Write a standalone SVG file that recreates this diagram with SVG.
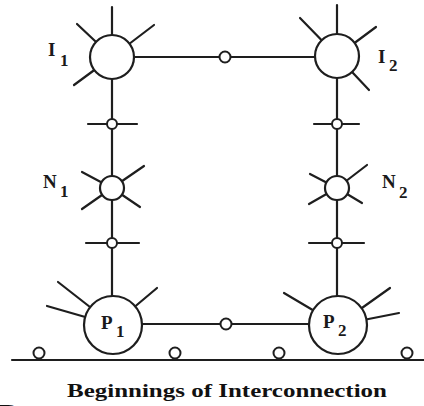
<svg xmlns="http://www.w3.org/2000/svg" width="424" height="406" viewBox="0 0 424 406">
<style>
.ln{stroke:#1e1e1e;stroke-width:2.2;fill:none;stroke-linecap:round}
.nd{stroke:#1e1e1e;stroke-width:2.2;fill:#fff}
.jn{stroke:#1e1e1e;stroke-width:2;fill:#fff}
.lb{font-family:"Liberation Serif",serif;font-weight:bold;fill:#1a1a1a}
.big{font-size:19px}
.sub{font-size:17px}
.cap{font-family:"Liberation Serif",serif;font-weight:bold;font-size:19px;fill:#111}
</style>
<rect width="424" height="406" fill="#fff"/>
<g id="connectors">
<line class="ln" x1="112" y1="57" x2="337" y2="57"/>
<line class="ln" x1="113" y1="324" x2="338" y2="324"/>
<line class="ln" x1="112" y1="57" x2="112" y2="310"/>
<line class="ln" x1="337" y1="57" x2="337" y2="310"/>
<line class="ln" x1="12" y1="360" x2="424" y2="360"/>
</g>
<g id="I1">
<line class="ln" x1="112" y1="7" x2="112" y2="57"/>
<line class="ln" x1="77" y1="24" x2="112" y2="57"/>
<line class="ln" x1="154" y1="25" x2="112" y2="57"/>
<line class="ln" x1="74" y1="85" x2="112" y2="57"/>
<circle class="nd" cx="112" cy="57" r="22"/>
<text class="lb"><tspan class="big" x="48" y="56">I</tspan><tspan class="sub" x="60" y="66">1</tspan></text>
</g>
<g id="I2">
<line class="ln" x1="337" y1="5" x2="337" y2="56"/>
<line class="ln" x1="300" y1="18" x2="337" y2="56"/>
<line class="ln" x1="376" y1="27" x2="337" y2="56"/>
<line class="ln" x1="369" y1="90" x2="337" y2="56"/>
<circle class="nd" cx="337" cy="56" r="22"/>
<text class="lb"><tspan class="big" x="378" y="63">I</tspan><tspan class="sub" x="389" y="71">2</tspan></text>
</g>
<g id="N1">
<line class="ln" x1="82" y1="172" x2="112" y2="188"/>
<line class="ln" x1="144" y1="166" x2="112" y2="188"/>
<line class="ln" x1="82" y1="209" x2="112" y2="188"/>
<line class="ln" x1="140" y1="207" x2="112" y2="188"/>
<circle class="nd" cx="112" cy="188" r="12"/>
<text class="lb"><tspan class="big" x="43" y="188">N</tspan><tspan class="sub" x="60" y="197">1</tspan></text>
</g>
<g id="N2">
<line class="ln" x1="310" y1="174" x2="337" y2="188"/>
<line class="ln" x1="367" y1="165" x2="337" y2="188"/>
<line class="ln" x1="309" y1="204" x2="337" y2="188"/>
<line class="ln" x1="362" y1="203" x2="337" y2="188"/>
<circle class="nd" cx="337" cy="188" r="12"/>
<text class="lb"><tspan class="big" x="382" y="188">N</tspan><tspan class="sub" x="399" y="198">2</tspan></text>
</g>
<g id="P1">
<line class="ln" x1="58" y1="282" x2="113" y2="325"/>
<line class="ln" x1="47" y1="306" x2="113" y2="325"/>
<line class="ln" x1="157" y1="288" x2="113" y2="325"/>
<circle class="nd" cx="113" cy="325" r="29"/>
<text class="lb"><tspan class="big" x="101" y="329">P</tspan><tspan class="sub" x="116" y="337">1</tspan></text>
</g>
<g id="P2">
<line class="ln" x1="284" y1="293" x2="338" y2="325"/>
<line class="ln" x1="390" y1="288" x2="338" y2="325"/>
<line class="ln" x1="399" y1="313" x2="338" y2="325"/>
<circle class="nd" cx="338" cy="325" r="29"/>
<text class="lb"><tspan class="big" x="323" y="328">P</tspan><tspan class="sub" x="338" y="336">2</tspan></text>
</g>
<g id="J1"><line class="ln" x1="88" y1="124" x2="137" y2="124"/><circle class="jn" cx="112" cy="124" r="5"/></g>
<g id="J2"><line class="ln" x1="86" y1="243" x2="139" y2="243"/><circle class="jn" cx="112" cy="243" r="5"/></g>
<g id="J3"><line class="ln" x1="314" y1="124" x2="359" y2="124"/><circle class="jn" cx="337" cy="124" r="5"/></g>
<g id="J4"><line class="ln" x1="309" y1="243" x2="364" y2="243"/><circle class="jn" cx="337" cy="243" r="5"/></g>
<g id="JT"><circle class="jn" cx="225" cy="57" r="5.5"/></g>
<g id="JB"><circle class="jn" cx="226" cy="324" r="5.5"/></g>
<g id="G1"><circle class="jn" cx="39" cy="353" r="5.5"/></g>
<g id="G2"><circle class="jn" cx="175" cy="353" r="5.5"/></g>
<g id="G3"><circle class="jn" cx="279" cy="353" r="5.5"/></g>
<g id="G4"><circle class="jn" cx="407" cy="353" r="5.5"/></g>
<text class="cap" x="67" y="397" textLength="320" lengthAdjust="spacingAndGlyphs">Beginnings of Interconnection</text>
<text x="-2" y="424" style="font-family:'Liberation Serif',serif;font-size:30px;fill:#111">D</text>
</svg>
